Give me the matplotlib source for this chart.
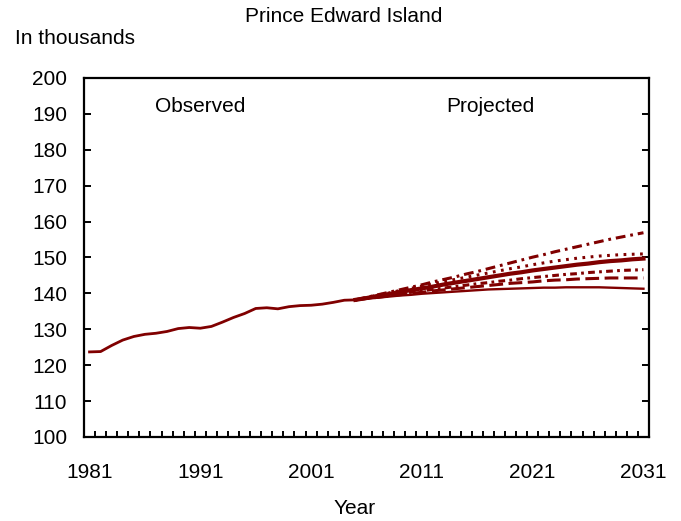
import matplotlib
matplotlib.use("Agg")
import matplotlib.pyplot as plt
from matplotlib.ticker import FixedLocator
import numpy as np

plt.rcParams.update({
    "font.family": ["Liberation Sans", "DejaVu Sans"],
    "font.size": 15,
})

RED = "#800000"

obs_years = list(range(1981, 2006))
observed = [123.7, 123.8, 125.5, 127.0, 128.0, 128.6, 128.9, 129.4, 130.2, 130.5,
            130.3, 130.8, 132.0, 133.3, 134.4, 135.8, 136.0, 135.7, 136.3, 136.6,
            136.7, 137.0, 137.5, 138.1, 138.2]

proj_years = list(range(2005, 2032))
proj_high = [138.2, 138.9, 139.6, 140.3, 141.0, 141.7, 142.4, 143.2, 143.9, 144.6,
             145.4, 146.1, 146.9, 147.7, 148.5, 149.3, 150.1, 150.8, 151.6, 152.3,
             153.0, 153.7, 154.4, 155.1, 155.7, 156.3, 156.9]
proj_dotted = [138.2, 138.8, 139.5, 140.1, 140.8, 141.4, 142.0, 142.7, 143.3, 143.9,
               144.5, 145.1, 145.7, 146.3, 146.9, 147.4, 148.0, 148.5, 149.0, 149.4,
               149.8, 150.1, 150.4, 150.6, 150.8, 150.9, 151.0]
proj_medium = [138.2, 138.7, 139.3, 139.8, 140.4, 140.9, 141.4, 141.9, 142.5, 143.0,
               143.5, 144.0, 144.5, 145.0, 145.5, 145.9, 146.4, 146.8, 147.2, 147.6,
               148.0, 148.3, 148.7, 149.0, 149.2, 149.5, 149.7]
proj_dashdot = [138.2, 138.6, 139.0, 139.5, 139.9, 140.3, 140.7, 141.1, 141.5, 141.9,
                142.3, 142.7, 143.0, 143.4, 143.7, 144.1, 144.4, 144.7, 145.0, 145.3,
                145.5, 145.8, 146.0, 146.2, 146.4, 146.5, 146.6]
proj_dashed = [138.2, 138.6, 138.9, 139.3, 139.6, 140.0, 140.3, 140.7, 141.0, 141.3,
               141.6, 141.9, 142.2, 142.5, 142.8, 143.0, 143.2, 143.5, 143.7, 143.8,
               144.0, 144.1, 144.2, 144.3, 144.3, 144.3, 144.3]
proj_low = [138.2, 138.5, 138.8, 139.1, 139.4, 139.6, 139.9, 140.1, 140.3, 140.5,
            140.7, 140.9, 141.1, 141.2, 141.3, 141.4, 141.5, 141.6, 141.6, 141.7,
            141.7, 141.7, 141.7, 141.6, 141.5, 141.4, 141.3]

fig = plt.figure(figsize=(6.81, 5.21), dpi=100)
ax = fig.add_axes([84 / 681, 84 / 521, 565 / 681, 359 / 521])

ax.plot(obs_years, observed, color=RED, lw=2.0)
ax.plot(proj_years, proj_low, color=RED, lw=1.7)
ax.plot(proj_years, proj_dashed, color=RED, lw=2.2, ls=(0, (4.5, 1.8)))
ax.plot(proj_years, proj_dashdot, color=RED, lw=2.2, ls=(0, (2.2, 1.4, 0.9, 1.4)))
ax.plot(proj_years, proj_medium, color=RED, lw=3.0)
ax.plot(proj_years, proj_dotted, color=RED, lw=2.2, ls=(0, (0.9, 1.8)))
ax.plot(proj_years, proj_high, color=RED, lw=2.2, ls=(0, (3.2, 1.6, 0.9, 1.6)))

ax.set_xlim(1980.5, 2031.5)
ax.set_ylim(100, 200)

ax.set_xticks(range(1981, 2032, 10))
ax.xaxis.set_minor_locator(FixedLocator(np.arange(1981.5, 2031, 1)))
ax.tick_params(axis="x", which="major", length=0, pad=19, labelsize=15)
ax.tick_params(axis="x", which="minor", direction="in", length=4, width=1.4)

ax.set_yticks(range(100, 201, 10))
ax.tick_params(axis="y", which="major", direction="in", length=5, width=1.4,
               right=True, pad=12, labelsize=15)

for sp in ax.spines.values():
    sp.set_linewidth(1.6)

ax.text(1991, 192, "Observed", ha="center", va="center", fontsize=15)
ax.text(2017.2, 192, "Projected", ha="center", va="center", fontsize=15)

fig.text(344 / 681, 1 - 16 / 521, "Prince Edward Island", ha="center", va="center", fontsize=15)
fig.text(15 / 681, 1 - 39 / 521, "In thousands", ha="left", va="center", fontsize=15)
fig.text(355 / 681, 1 - 508 / 521, "Year", ha="center", va="center", fontsize=15)

fig.savefig("out.png", dpi=100)
